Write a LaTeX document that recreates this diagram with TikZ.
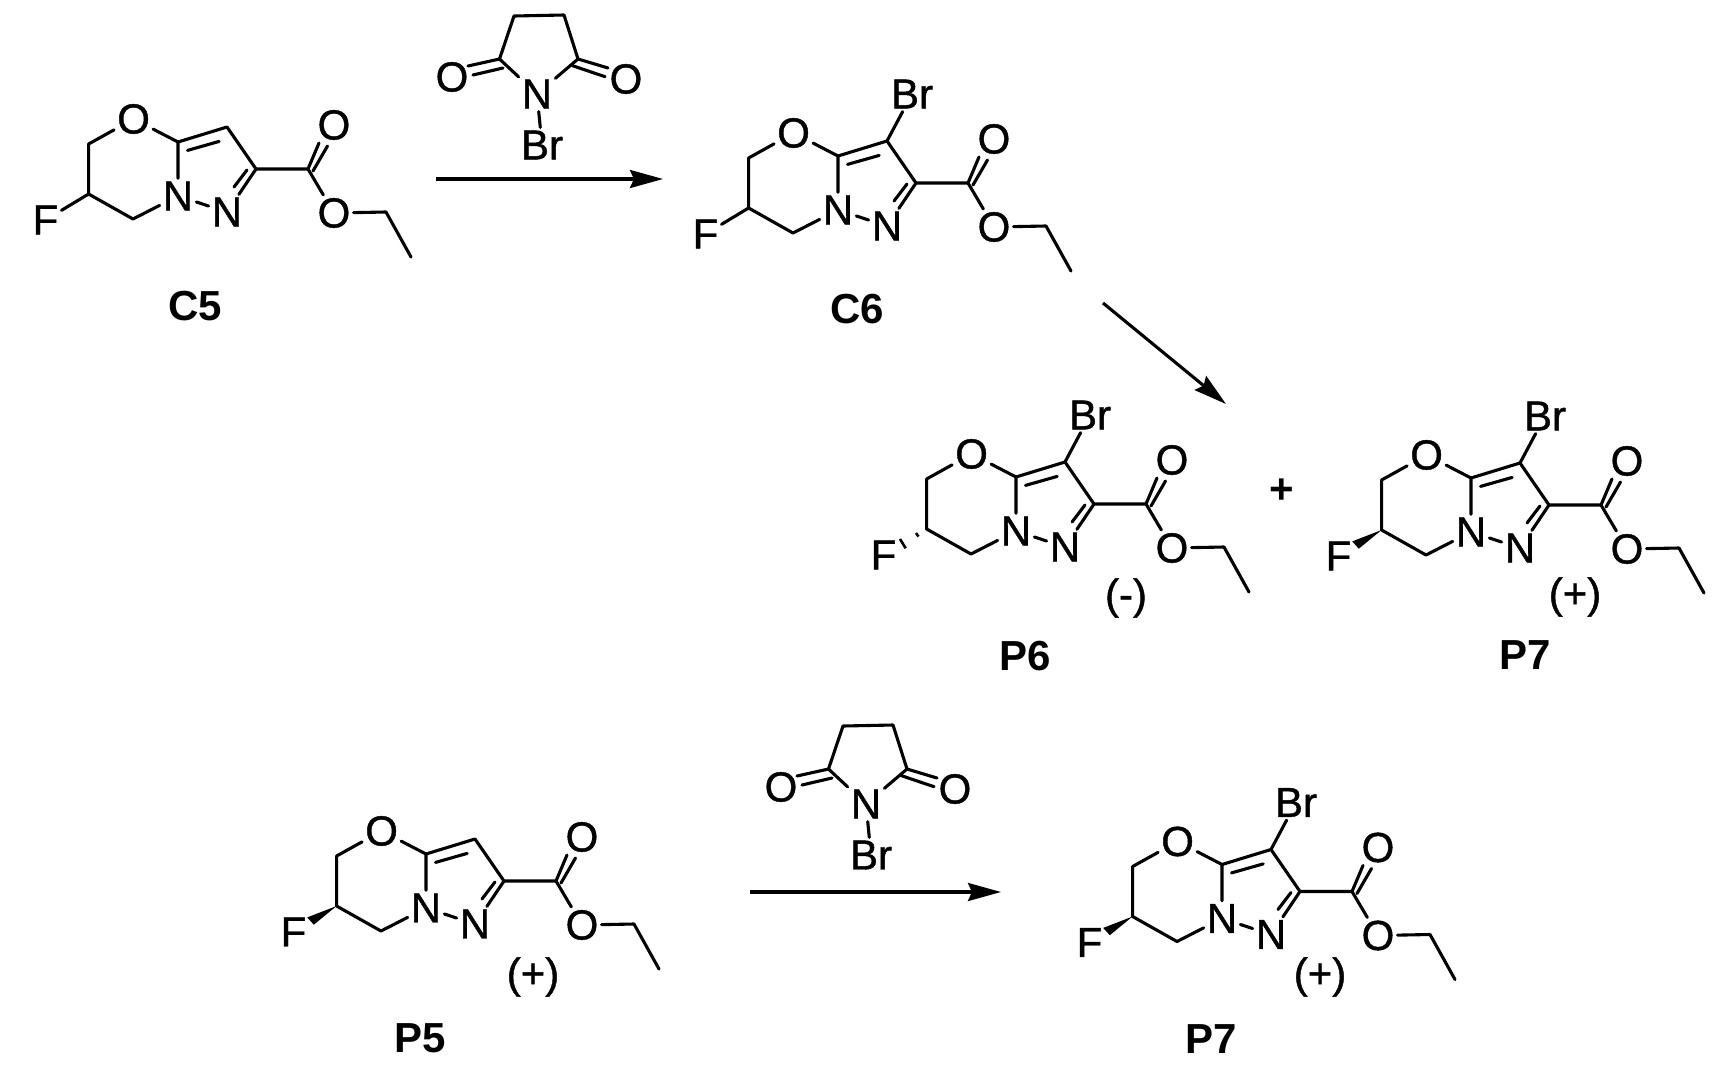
\documentclass[tikz,border=0pt]{standalone}
\usepackage{fontspec}
\setmainfont{Liberation Sans}
\newfontfamily\atomfont[FakeBold=1]{Liberation Sans}
\usetikzlibrary{calc,arrows.meta}
\tikzset{
  x=1pt,y=-1pt,
  bond/.style={line width=3.1pt,line cap=round,line join=round,black},
  hash/.style={line width=2.6pt,black},
  atom/.style={inner sep=3pt,font=\fontsize{42}{42}\selectfont\atomfont,text=black},
  lab/.style={inner sep=1pt,font=\fontsize{42}{42}\selectfont\bfseries,text=black},
  rxn/.style={line width=3.1pt,black,-{Stealth[length=33pt,width=18pt,inset=4pt]}},
}
% #1 prefix, #2 dx, #3 dy, #4 stereo: 0 plain 1 hash 2 wedge, #5 bromo: 0/1
\newcommand{\ester}[5]{%
\begin{scope}[shift={(#2,#3)}]
  \node[atom] (#1o) at (133.6,119) {O};
  \node[atom] (#1f) at (45.5,220) {F};
  \node[atom] (#1na) at (178,196) {N};
  \node[atom] (#1nb) at (227,212) {N};
  \node[atom] (#1oa) at (334,125) {O};
  \node[atom] (#1ob) at (334,213) {O};
  \coordinate (#1c1) at (88.6,144);
  \coordinate (#1c2) at (88.6,194);
  \coordinate (#1c3) at (133,219);
  \coordinate (#1c4) at (178,142);
  \coordinate (#1c5) at (227,127);
  \coordinate (#1c6) at (256,169);
  \coordinate (#1c7) at (308,169);
  \coordinate (#1c8) at (386,212);
  \coordinate (#1c9) at (411,257);
  \coordinate (#1d1) at (187.5,150.4);
  \coordinate (#1d2) at (219.2,141.4);
  \coordinate (#1d3) at (247,170);
  \coordinate (#1d4) at (234,187);
  \coordinate (#1d5) at (319,143);
  \coordinate (#1d6) at (313,171);
  \coordinate (#1d7) at (327.5,146);
  \draw[bond] (#1o) -- (#1c1) -- (#1c2) -- (#1c3) -- (#1na);
  \draw[bond] (#1o) -- (#1c4) -- (#1na);
  \draw[bond] (#1na) -- (#1nb);
  \draw[bond] (#1c4) -- (#1c5) -- (#1c6) -- (#1c7) -- (#1ob) -- (#1c8) -- (#1c9);
  \draw[bond] (#1c6) -- (#1nb);
  \draw[bond] (#1d1) -- (#1d2);
  \draw[bond] (#1d3) -- (#1d4);
  \draw[bond] (#1c7) -- (#1d5);
  \draw[bond] (#1d6) -- (#1d7);
  \ifcase#4\relax
    \draw[bond] (#1c2) -- (#1f);
  \or
    \draw[hash] (78,198) -- (80.5,201.5);
    \draw[hash] (62,204) -- (67.7,213.3);
  \or
    \fill[black] (#1c2) -- (59.2,205.4) -- (65.8,212.7) -- cycle;
  \fi
  \ifnum#5=1
    \node[atom] (#1br) at (252,80) {Br};
    \draw[bond] (#1c5) -- (#1br);
  \fi
\end{scope}}
\newcommand{\nbs}[3]{%
\begin{scope}[shift={(#2,#3)}]
  \node[atom] (#1n) at (537,94) {N};
  \node[atom] (#1ol) at (452,77) {O};
  \node[atom] (#1or) at (626,79) {O};
  \node[atom] (#1br) at (542,145) {Br};
  \coordinate (#1a) at (514,16);
  \coordinate (#1b) at (564,15);
  \coordinate (#1c) at (499.5,59);
  \coordinate (#1d) at (578,59);
  \coordinate (#1e) at (468,66);
  \coordinate (#1f) at (503,68);
  \coordinate (#1g) at (473,75);
  \coordinate (#1h) at (608,68);
  \coordinate (#1i) at (572,65.5);
  \coordinate (#1j) at (605,76.7);
  \draw[bond] (#1n) -- (#1c) -- (#1a) -- (#1b) -- (#1d) -- (#1n);
  \draw[bond] (#1n) -- (#1br);
  \draw[bond] (#1c) -- (#1e);
  \draw[bond] (#1f) -- (#1g);
  \draw[bond] (#1d) -- (#1h);
  \draw[bond] (#1i) -- (#1j);
\end{scope}}
\begin{document}
\begin{tikzpicture}
\useasboundingbox (0,0) rectangle (1719,1066);
\fill[white] (0,0) rectangle (1719,1066);
% top row
\ester{a}{0}{0}{0}{0}
\node[lab] (lc5) at (195,306) {C5};
\nbs{s}{0}{0}
\coordinate (r1s) at (436,179);
\coordinate (r1e) at (663,179);
\draw[rxn] (r1s) -- (r1e);
\ester{b}{660}{14}{0}{1}
\node[lab] (lc6) at (857,309) {C6};
\coordinate (r2s) at (1103,303);
\coordinate (r2e) at (1226,404);
\draw[rxn] (r2s) -- (r2e);
% products
\ester{c}{838}{335}{1}{1}
\node[atom] (signc) at (1126,598) {(-)};
\node[lab] (lp6) at (1025,656) {P6};
\node[lab] (plus) at (1282,491) {+};
\ester{d}{1293}{336}{2}{1}
\node[atom] (signd) at (1575,597) {(+)};
\node[lab] (lp7a) at (1525,655) {P7};
% bottom row
\ester{e}{248}{712}{2}{0}
\node[atom] (signe) at (533,977) {(+)};
\node[lab] (lp5) at (420,1038) {P5};
\nbs{t}{329}{710}
\coordinate (r3s) at (750,892);
\coordinate (r3e) at (1001,892);
\draw[rxn] (r3s) -- (r3e);
\ester{g}{1044}{722.5}{2}{1}
\node[atom] (signg) at (1320,977) {(+)};
\node[lab] (lp7b) at (1211,1039) {P7};
\end{tikzpicture}
\end{document}
